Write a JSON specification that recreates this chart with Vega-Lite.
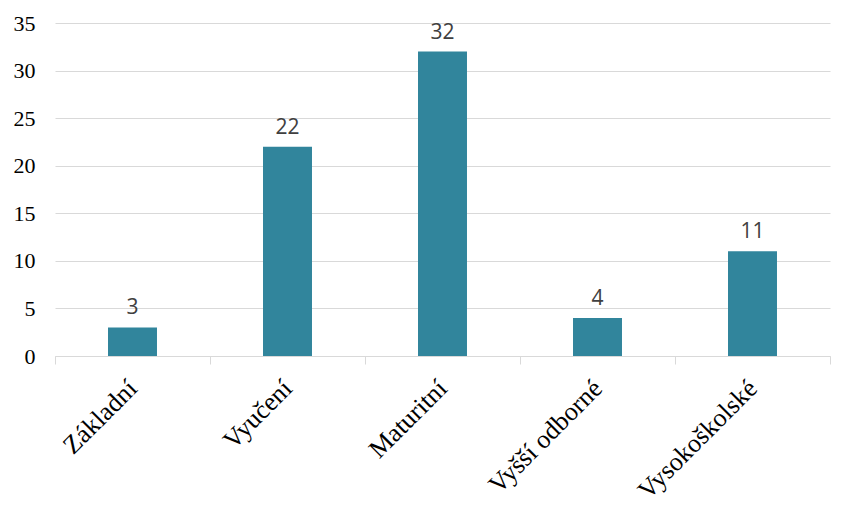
{
  "$schema": "https://vega.github.io/schema/vega-lite/v6.json",
  "autosize": {"type": "none"},
  "width": 775,
  "height": 333,
  "padding": {"left": 55, "top": 23, "right": 23, "bottom": 159},
  "background": "white",
  "config": {"view": {"stroke": null}},
  "data": {"values": [
    {"kategorie": "Základní", "pocet": 3},
    {"kategorie": "Vyučení", "pocet": 22},
    {"kategorie": "Maturitní", "pocet": 32},
    {"kategorie": "Vyšší odborné", "pocet": 4},
    {"kategorie": "Vysokoškolské", "pocet": 11}
  ]},
  "encoding": {
    "x": {"field": "kategorie", "type": "nominal", "sort": null,
      "scale": {"paddingInner": 0, "paddingOuter": 0},
      "axis": {"title": null, "labelAngle": -45, "labelFont": "Liberation Serif", "labelFontSize": 26,
        "labelColor": "#000000", "labelAlign": "right", "labelBaseline": "middle", "labelOffset": 0, "labelPadding": 20,
        "domainColor": "#d9d9d9", "tickColor": "#d9d9d9", "tickSize": 8, "tickBand": "extent", "grid": false}},
    "y": {"field": "pocet", "type": "quantitative",
      "scale": {"domain": [0, 35]},
      "axis": {"title": null, "values": [0, 5, 10, 15, 20, 25, 30, 35], "labelFont": "Liberation Serif", "labelFontSize": 22,
        "labelColor": "#000000", "labelPadding": 20, "ticks": false, "domain": false, "gridColor": "#d9d9d9", "gridWidth": 1}}
  },
  "layer": [
    {"mark": {"type": "bar", "color": "#31859C", "width": {"band": 0.316}}},
    {"mark": {"type": "text", "dy": -13, "baseline": "alphabetic", "font": "Open Sans", "fontSize": 21, "color": "#404040"},
      "encoding": {"text": {"field": "pocet", "type": "quantitative"}}}
  ]
}
